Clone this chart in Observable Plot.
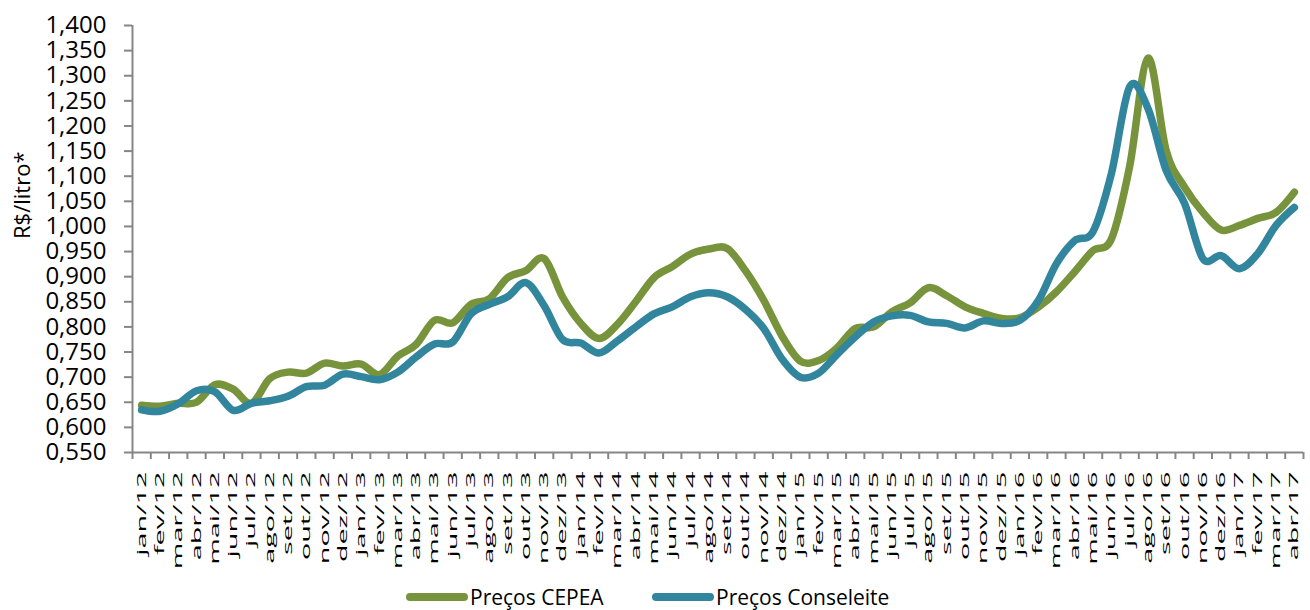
<!DOCTYPE html>
<html><head><meta charset="utf-8">
<script src="https://cdn.jsdelivr.net/npm/d3@7"></script>
<script src="https://cdn.jsdelivr.net/npm/@observablehq/plot@0.6"></script>
<style>
body{margin:0;background:#fff;font-family:"Open Sans",sans-serif;}
#wrap{position:relative;width:1310px;height:610px;overflow:hidden;}
.legend{position:absolute;top:584px;left:0;width:1310px;height:26px;}
.item{position:absolute;top:0;display:flex;align-items:center;height:26px;font-size:21px;color:#000;white-space:nowrap;}
.sw{display:inline-block;width:62px;height:8px;border-radius:4px;margin-right:2px;}
</style></head><body>
<div id="wrap"><div id="chart"></div>
<div class="legend">
<div class="item" style="left:406px"><span class="sw" style="background:#77933C"></span>Preços CEPEA</div>
<div class="item" style="left:652px"><span class="sw" style="background:#31859C"></span>Preços Conseleite</div>
</div></div>
<script>
const months = [
 "jan/12","fev/12","mar/12","abr/12","mai/12","jun/12","jul/12","ago/12","set/12","out/12","nov/12","dez/12",
 "jan/13","fev/13","mar/13","abr/13","mai/13","jun/13","jul/13","ago/13","set/13","out/13","nov/13","dez/13",
 "jan/14","fev/14","mar/14","abr/14","mai/14","jun/14","jul/14","ago/14","set/14","out/14","nov/14","dez/14",
 "jan/15","fev/15","mar/15","abr/15","mai/15","jun/15","jul/15","ago/15","set/15","out/15","nov/15","dez/15",
 "jan/16","fev/16","mar/16","abr/16","mai/16","jun/16","jul/16","ago/16","set/16","out/16","nov/16","dez/16",
 "jan/17","fev/17","mar/17","abr/17"
];
const cepea = [
 0.644,0.642,0.648,0.650,0.685,0.676,0.648,0.697,0.710,0.708,0.728,0.722,
 0.726,0.705,0.742,0.765,0.813,0.808,0.845,0.856,0.898,0.912,0.936,0.860,
 0.807,0.777,0.805,0.850,0.898,0.920,0.945,0.955,0.956,0.912,0.853,0.782,
 0.732,0.733,0.758,0.797,0.800,0.830,0.848,0.878,0.862,0.840,0.827,0.817,
 0.818,0.839,0.870,0.910,0.952,0.975,1.120,1.335,1.150,1.078,1.028,0.993,
 1.002,1.016,1.028,1.068
];
const conseleite = [
 0.635,0.632,0.647,0.673,0.671,0.634,0.648,0.653,0.662,0.681,0.684,0.706,
 0.701,0.695,0.710,0.740,0.766,0.770,0.826,0.845,0.860,0.888,0.842,0.775,
 0.768,0.748,0.772,0.800,0.826,0.840,0.860,0.868,0.860,0.835,0.797,0.736,
 0.700,0.708,0.745,0.780,0.810,0.822,0.823,0.810,0.807,0.798,0.812,0.807,
 0.813,0.852,0.926,0.972,0.990,1.105,1.278,1.235,1.111,1.046,0.936,0.942,
 0.916,0.946,1.002,1.038
];
const yTicks = [0.55,0.60,0.65,0.70,0.75,0.80,0.85,0.90,0.95,1.00,1.05,1.10,1.15,1.20,1.25,1.30,1.35,1.40];
const seriesNames = ["Preços CEPEA","Preços Conseleite"];
const seriesColors = ["#77933C","#31859C"];
const yTitle = "R$/litro*";

const idx = months.map((_, i) => i);
const bounds = months.map((_, i) => i - 0.5).concat([months.length - 0.5]);
const rows = [];
idx.forEach(i => rows.push({i, v: cepea[i], s: seriesNames[0]}));
idx.forEach(i => rows.push({i, v: conseleite[i], s: seriesNames[1]}));
const gray = "#868686";

const chart = Plot.plot({
  width: 1310, height: 580,
  marginLeft: 132, marginRight: 7, marginTop: 25, marginBottom: 128,
  style: {fontFamily: "'Open Sans', sans-serif", fontSize: "24px", color: "#000", background: "#fff"},
  x: {type: "linear", domain: [bounds[0], bounds[bounds.length - 1]]},
  y: {domain: [yTicks[0], yTicks[yTicks.length - 1]]},
  color: {domain: seriesNames, range: seriesColors},
  marks: [
    Plot.axisY({ticks: yTicks, tickFormat: d => d.toFixed(3).replace(".", ","), tickSize: 8, tickPadding: 18, stroke: gray, strokeWidth: 2, fill: "#000", label: null}),
    Plot.axisX({ticks: bounds, tickFormat: () => "", tickSize: 7, tickPadding: 0, stroke: gray, strokeWidth: 2, label: null}),
    Plot.text(idx, {x: d => d, text: d => months[d], frameAnchor: "bottom", rotate: -90, textAnchor: "end", lineAnchor: "middle", dy: 19, fontSize: 12.5, fill: "#000"}),
    Plot.text([yTitle], {frameAnchor: "left", dx: -110, rotate: -90, fontSize: 22, fill: "#000"}),
    Plot.ruleY([yTicks[0]], {stroke: gray, strokeWidth: 2}),
    Plot.ruleX([bounds[0]], {stroke: gray, strokeWidth: 2}),
    Plot.line(rows, {x: "i", y: "v", z: "s", stroke: "s", strokeWidth: 7.5, curve: "cardinal", strokeLinecap: "round", strokeLinejoin: "round"})
  ]
});
document.getElementById("chart").appendChild(chart);
// stretch the rotated month labels along their reading direction, as in the original
chart.querySelectorAll("text").forEach(t => {
  const tr = t.getAttribute("transform") || "";
  if (months.includes(t.textContent) && tr.includes("rotate")) {
    t.setAttribute("transform", tr + " scale(2.3,1)");
  }
});
</script></body></html>
